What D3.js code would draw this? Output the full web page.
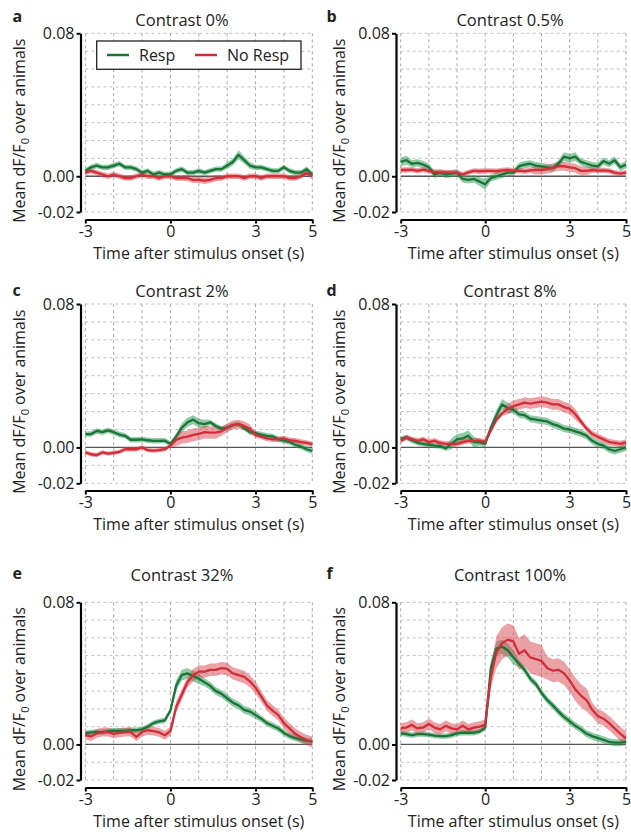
<!DOCTYPE html>
<html><head><meta charset="utf-8">
<script src="https://cdn.jsdelivr.net/npm/d3@7"></script>
<style>
body{margin:0;background:#fff;}
text{font-family:"Open Sans",sans-serif;fill:#222;}
</style></head>
<body>
<svg id="chart" width="631" height="834"></svg>
<script>
// ---- data ----
const times = [-3,-2.8,-2.6,-2.4,-2.2,-2,-1.8,-1.6,-1.4,-1.2,-1,-0.8,-0.6,-0.4,-0.2,0,0.2,0.4,0.6,0.8,1,1.2,1.4,1.6,1.8,2,2.2,2.4,2.6,2.8,3,3.2,3.4,3.6,3.8,4,4.2,4.4,4.6,4.8,5];
const seriesNames = ["Resp", "No Resp"];
const titles = ["Contrast 0%", "Contrast 0.5%", "Contrast 2%", "Contrast 8%", "Contrast 32%", "Contrast 100%"];
const letters = ["a","b","c","d","e","f"];
const yTicks = [-0.02, 0, 0.08];
const xTicks = [-3, 0, 3, 5];

const respA = [0.003,0.005,0.006,0.005,0.005,0.006,0.007,0.005,0.005,0.004,0.002,0.003,0.001,0.002,0.001,0.001,0.003,0.004,0.002,0.002,0.003,0.002,0.003,0.004,0.004,0.006,0.008,0.012,0.009,0.006,0.005,0.005,0.004,0.003,0.003,0.005,0.003,0.002,0.002,0.004,0.001];
const respSemA = [0.0015,0.0015,0.0015,0.0015,0.0015,0.0015,0.0015,0.0015,0.0015,0.0015,0.0015,0.0015,0.0015,0.0015,0.0015,0.0015,0.0015,0.0015,0.0015,0.0015,0.0015,0.0015,0.0015,0.0015,0.0015,0.0018,0.002,0.0025,0.002,0.0018,0.0015,0.0015,0.0015,0.0015,0.0015,0.0015,0.0015,0.0015,0.0015,0.0015,0.0015];
const noRespA = [0.002,0.003,0.002,0.001,0,0.001,0,-0.001,-0.001,0,0.001,0,0,-0.001,0,0,-0.001,-0.001,-0.001,-0.002,-0.002,-0.0025,-0.002,-0.001,-0.001,0,0,0,-0.001,0,0,-0.001,0,0,0,0,-0.001,-0.001,0,0.002,0];
const noRespSemA = [0.0015,0.0015,0.0015,0.0015,0.0015,0.0015,0.0015,0.0015,0.0015,0.0015,0.0015,0.0015,0.0015,0.0015,0.0015,0.0015,0.0015,0.0015,0.0018,0.0018,0.0018,0.0018,0.0018,0.0018,0.0015,0.0015,0.0015,0.0015,0.0015,0.0015,0.0015,0.0015,0.0015,0.0015,0.0015,0.0015,0.0015,0.0015,0.0015,0.0015,0.0015];

const respB = [0.008,0.009,0.007,0.0075,0.0065,0.005,0.001,0.002,0.001,0.0015,0.002,-0.0015,-0.002,-0.0015,-0.003,-0.0045,-0.001,0,0.001,0.002,0.002,0.0055,0.0065,0.007,0.006,0.0055,0.005,0.0045,0.007,0.011,0.01,0.011,0.008,0.007,0.006,0.0055,0.0085,0.007,0.009,0.005,0.0065];
const respSemB = [0.0025,0.0025,0.002,0.002,0.002,0.002,0.002,0.002,0.002,0.002,0.002,0.002,0.002,0.002,0.0025,0.003,0.002,0.002,0.002,0.002,0.002,0.002,0.002,0.002,0.002,0.002,0.002,0.002,0.002,0.0025,0.0025,0.0025,0.002,0.002,0.002,0.002,0.002,0.002,0.002,0.002,0.002];
const noRespB = [0.0035,0.0035,0.0037,0.003,0.0037,0.003,0.0025,0.002,0.0022,0.002,0.002,0.001,0.0022,0.003,0.0028,0.003,0.003,0.0028,0.0033,0.0035,0.003,0.0032,0.0028,0.0033,0.0035,0.0035,0.004,0.0047,0.0056,0.0056,0.005,0.0045,0.003,0.003,0.0035,0.0032,0.0033,0.003,0.002,0.0015,0.002];
const noRespSemB = [0.0015,0.0015,0.0015,0.0015,0.0015,0.0015,0.0015,0.0015,0.0015,0.0015,0.0015,0.0015,0.0015,0.0015,0.0015,0.0015,0.0015,0.0015,0.0015,0.0015,0.0015,0.0015,0.0015,0.0015,0.0025,0.0025,0.0025,0.0025,0.0025,0.0025,0.0025,0.0025,0.0025,0.0025,0.0015,0.0015,0.0015,0.0015,0.0015,0.0015,0.0015];

const respC = [0.0074,0.0075,0.0092,0.0085,0.0095,0.0085,0.0072,0.0065,0.0043,0.0043,0.0045,0.004,0.0037,0.0037,0.0038,0.002,0.006,0.011,0.014,0.0155,0.0135,0.013,0.014,0.012,0.0105,0.011,0.0125,0.013,0.011,0.0085,0.008,0.0072,0.0065,0.0062,0.0046,0.0038,0.003,0.0015,0.0005,-0.001,-0.002];
const respSemC = [0.0015,0.0015,0.0015,0.0015,0.0015,0.0015,0.0015,0.0015,0.0015,0.0015,0.0015,0.0015,0.0015,0.0015,0.0015,0.0015,0.0015,0.0025,0.0025,0.0025,0.0025,0.0025,0.0015,0.0015,0.0015,0.0015,0.0015,0.0015,0.0015,0.0015,0.0015,0.0015,0.0015,0.0015,0.0015,0.0015,0.0015,0.0015,0.0015,0.0015,0.0015];
const noRespC = [-0.0028,-0.0038,-0.0043,-0.0028,-0.0035,-0.003,-0.0025,-0.001,-0.001,-0.001,0,-0.0015,-0.0018,-0.0015,-0.001,0.001,0.0042,0.0055,0.006,0.007,0.0075,0.0085,0.0083,0.0083,0.009,0.011,0.0125,0.013,0.012,0.0105,0.007,0.006,0.005,0.0045,0.0045,0.005,0.004,0.0037,0.003,0.0025,0.0018];
const noRespSemC = [0.0012,0.0012,0.0012,0.0012,0.0012,0.0012,0.0012,0.0012,0.0012,0.0012,0.0012,0.0012,0.0012,0.0012,0.0012,0.0012,0.0035,0.0035,0.0035,0.0035,0.0035,0.0035,0.0035,0.0035,0.0025,0.0025,0.0025,0.0025,0.0025,0.0025,0.0015,0.0015,0.0015,0.0015,0.0015,0.0015,0.0015,0.0015,0.0015,0.0015,0.0015];

const respD = [0.0046,0.0056,0.004,0.0026,0.002,0.0015,0.001,0.0008,-0.0005,0.002,0.0045,0.005,0.0065,0.003,0.0028,0.002,0.011,0.018,0.024,0.022,0.021,0.0185,0.018,0.016,0.0155,0.015,0.0145,0.013,0.012,0.0105,0.01,0.009,0.008,0.0065,0.0037,0.002,0.001,-0.001,-0.002,-0.001,0];
const respSemD = [0.0015,0.0015,0.0015,0.0015,0.0015,0.0015,0.0015,0.0015,0.0015,0.003,0.003,0.003,0.003,0.003,0.002,0.002,0.002,0.003,0.003,0.003,0.002,0.002,0.002,0.002,0.002,0.002,0.002,0.002,0.002,0.002,0.002,0.002,0.002,0.002,0.002,0.002,0.002,0.002,0.002,0.002,0.002];
const noRespD = [0.0037,0.0056,0.0045,0.0037,0.0045,0.003,0.0037,0.0025,0.002,0.002,0.002,0.003,0.0037,0.0037,0.0037,0.003,0.0095,0.0155,0.019,0.0215,0.023,0.024,0.025,0.0245,0.025,0.0255,0.025,0.024,0.024,0.0225,0.0215,0.0185,0.0145,0.0105,0.0075,0.006,0.0045,0.003,0.0025,0.002,0.0028];
const noRespSemD = [0.0015,0.0015,0.0015,0.0015,0.0015,0.0015,0.0015,0.0015,0.0015,0.0015,0.0015,0.0015,0.0015,0.0015,0.0015,0.0015,0.0015,0.0015,0.0015,0.003,0.003,0.003,0.003,0.003,0.003,0.003,0.003,0.003,0.003,0.003,0.003,0.003,0.0018,0.0018,0.0018,0.0018,0.0018,0.0018,0.0018,0.0018,0.0018];

const respE = [0.0062,0.0068,0.0071,0.0068,0.0075,0.0077,0.0077,0.0077,0.008,0.008,0.0085,0.01,0.012,0.013,0.0135,0.019,0.033,0.039,0.04,0.0385,0.037,0.035,0.033,0.03,0.0285,0.026,0.0235,0.022,0.0195,0.0185,0.0165,0.0145,0.012,0.0105,0.009,0.0065,0.0047,0.0036,0.0028,0.002,0.0018];
const respSemE = [0.0015,0.0015,0.0015,0.0015,0.0015,0.0015,0.0015,0.0015,0.0015,0.0015,0.0015,0.0015,0.0015,0.0015,0.0015,0.0015,0.003,0.003,0.003,0.003,0.003,0.0022,0.0022,0.0022,0.0022,0.0022,0.0022,0.0022,0.0022,0.0022,0.0022,0.0018,0.0018,0.0018,0.0018,0.0018,0.0018,0.0018,0.0018,0.0018,0.0018];
const noRespE = [0.0053,0.0045,0.0062,0.007,0.007,0.006,0.0065,0.007,0.007,0.0043,0.007,0.008,0.0075,0.0068,0.0052,0.0075,0.021,0.028,0.035,0.039,0.041,0.041,0.042,0.042,0.043,0.0425,0.04,0.039,0.038,0.0355,0.032,0.027,0.022,0.019,0.0165,0.012,0.009,0.006,0.004,0.0025,0.0015];
const noRespSemE = [0.0025,0.0025,0.0025,0.0025,0.0025,0.0025,0.0025,0.0025,0.0025,0.0025,0.0025,0.0025,0.0025,0.0025,0.0025,0.0025,0.003,0.003,0.003,0.0035,0.0035,0.0035,0.0035,0.0035,0.0035,0.0035,0.0035,0.0035,0.0035,0.0035,0.0035,0.003,0.003,0.003,0.003,0.003,0.003,0.003,0.003,0.003,0.003];

const respF = [0.0062,0.0058,0.0052,0.0058,0.0058,0.0055,0.005,0.0047,0.0047,0.0052,0.0062,0.0066,0.0066,0.0066,0.0072,0.0095,0.043,0.054,0.055,0.053,0.049,0.0455,0.042,0.037,0.034,0.029,0.025,0.022,0.0185,0.0155,0.013,0.0105,0.0085,0.006,0.0047,0.0036,0.0026,0.0015,0.001,0.001,0.0015];
const respSemF = [0.0015,0.0015,0.0015,0.0015,0.0015,0.0015,0.0015,0.0015,0.0015,0.0015,0.0015,0.0015,0.0015,0.0015,0.0015,0.0015,0.004,0.004,0.004,0.004,0.004,0.002,0.002,0.002,0.002,0.002,0.002,0.002,0.002,0.002,0.002,0.002,0.002,0.002,0.002,0.002,0.002,0.002,0.002,0.002,0.002];
const noRespF = [0.009,0.0095,0.011,0.009,0.0095,0.0115,0.0095,0.0085,0.0105,0.009,0.0085,0.0105,0.0085,0.0095,0.01,0.011,0.038,0.052,0.057,0.059,0.058,0.051,0.053,0.049,0.048,0.047,0.043,0.0415,0.042,0.04,0.036,0.031,0.0275,0.025,0.0195,0.016,0.0145,0.012,0.009,0.006,0.0034];
const noRespSemF = [0.003,0.003,0.003,0.003,0.003,0.003,0.003,0.003,0.003,0.003,0.003,0.003,0.003,0.003,0.003,0.003,0.006,0.009,0.009,0.009,0.009,0.009,0.009,0.009,0.009,0.009,0.0065,0.0065,0.0065,0.0065,0.0065,0.0065,0.0065,0.0065,0.004,0.004,0.004,0.004,0.004,0.004,0.004];

const panelData = [
  [respA, respSemA, noRespA, noRespSemA],
  [respB, respSemB, noRespB, noRespSemB],
  [respC, respSemC, noRespC, noRespSemC],
  [respD, respSemD, noRespD, noRespSemD],
  [respE, respSemE, noRespE, noRespSemE],
  [respF, respSemF, noRespF, noRespSemF]
];

// ---- layout / style ----
const colors = {line: ["#1a7638", "#d12e39"], band: ["rgba(40,150,80,0.5)", "rgba(215,70,80,0.5)"]};
const cols = [
  {x0: 85.3, x1: 312.3, yAxisX: 80.5, titleX: 182, letterX: 12.5, ylabelX: 25},
  {x0: 400.7, x1: 626, yAxisX: 396, titleX: 510, letterX: 326.5, ylabelX: 345}
];
const rows = [
  {y0: 33.3, y1: 212, xAxisY: 219.5, titleY: 25.5, letterY: 22},
  {y0: 304, y1: 483.3, xAxisY: 490.5, titleY: 296.5, letterY: 296},
  {y0: 602.3, y1: 780, xAxisY: 787.5, titleY: 580.5, letterY: 579}
];

const svg = d3.select("#chart");

panelData.forEach((pd, i) => {
  const c = cols[i % 2], r = rows[Math.floor(i / 2)];
  const x = d3.scaleLinear().domain([-3, 5]).range([c.x0, c.x1]);
  const y = d3.scaleLinear().domain([-0.02, 0.08]).range([r.y1, r.y0]);
  const g = svg.append("g");

  // grid
  const gx = d3.range(-3, 6, 1);
  const gy = d3.range(-0.02, 0.0801, 0.01);
  g.selectAll(".vg").data(gx).join("line")
    .attr("x1", d => x(d)).attr("x2", d => x(d)).attr("y1", y(0.08)).attr("y2", y(-0.02))
    .attr("stroke", "#a8a8a8").attr("stroke-width", 1).attr("stroke-dasharray", "3,3");
  g.selectAll(".hg").data(gy).join("line")
    .attr("x1", x(-3)).attr("x2", x(5)).attr("y1", d => y(d)).attr("y2", d => y(d))
    .attr("stroke", "#c0c0c0").attr("stroke-width", 1).attr("stroke-dasharray", "3,3");

  // zero line
  g.append("line").attr("x1", x(-3)).attr("x2", x(5)).attr("y1", y(0)).attr("y2", y(0))
    .attr("stroke", "#555").attr("stroke-width", 1.3);

  const series = [[pd[0], pd[1]], [pd[2], pd[3]]];
  const area = d3.area().x(d => x(d.t)).y0(d => y(d.m - d.s)).y1(d => y(d.m + d.s));
  const line = d3.line().x(d => x(d.t)).y(d => y(d.m));
  const pts = series.map(([m, s]) => times.map((t, k) => ({t, m: m[k], s: s[k]})));
  pts.forEach((p, k) => {
    g.append("path").attr("d", area(p)).attr("fill", colors.band[k]).attr("stroke", "none");
  });
  pts.forEach((p, k) => {
    g.append("path").attr("d", line(p)).attr("fill", "none").attr("stroke", colors.line[k])
      .attr("stroke-width", 2.3).attr("stroke-linejoin", "round");
  });

  // axes
  const yAxis = d3.axisLeft(y).tickValues(yTicks).tickSize(4).tickSizeOuter(0).tickPadding(2)
    .tickFormat(d => d.toFixed(2));
  const ya = g.append("g").attr("transform", `translate(${c.yAxisX},0)`).call(yAxis);
  const xAxis = d3.axisBottom(x).tickValues(xTicks).tickSize(4).tickSizeOuter(0).tickPadding(2)
    .tickFormat(d => String(d));
  const xa = g.append("g").attr("transform", `translate(0,${r.xAxisY})`).call(xAxis);
  [ya, xa].forEach(a => {
    a.select(".domain").attr("stroke", "#000").attr("stroke-width", 2.2);
    a.selectAll(".tick line").attr("stroke", "#000").attr("stroke-width", 2);
    a.selectAll(".tick text").style("font-family", "'Open Sans', sans-serif").style("font-size", "16px").attr("fill", "#222");
  });

  // titles & labels
  g.append("text").attr("x", c.titleX).attr("y", r.titleY).attr("text-anchor", "middle")
    .style("font-size", "16.5px").text(titles[i]);
  g.append("text").attr("x", c.letterX).attr("y", r.letterY)
    .style("font-size", "16px").style("font-weight", "bold").text(letters[i]);
  g.append("text").attr("x", (c.x0 + c.x1) / 2).attr("y", r.xAxisY + 39).attr("text-anchor", "middle")
    .style("font-size", "16px").text("Time after stimulus onset (s)");
  const yl = g.append("text")
    .attr("transform", `translate(${c.ylabelX},${(r.y0 + r.y1) / 2 + 8}) rotate(-90)`)
    .attr("text-anchor", "middle").style("font-size", "16px");
  yl.append("tspan").text("Mean dF/F");
  yl.append("tspan").attr("dy", 4).style("font-size", "11px").text("0");
  yl.append("tspan").attr("dy", -4).text(" over animals");

  // legend in first panel
  if (i === 0) {
    const lg = g.append("g");
    lg.append("rect").attr("x", 96.7).attr("y", 41).attr("width", 204.3).attr("height", 28.3)
      .attr("fill", "#fff").attr("stroke", "#222").attr("stroke-width", 1.3);
    const lx = [[107, 129, 139], [195, 217, 227]];
    seriesNames.forEach((n, k) => {
      lg.append("line").attr("x1", lx[k][0]).attr("x2", lx[k][1]).attr("y1", 55).attr("y2", 55)
        .attr("stroke", colors.line[k]).attr("stroke-width", 2.5);
      lg.append("text").attr("x", lx[k][2]).attr("y", 61).style("font-size", "16px").text(n);
    });
  }
});
</script>
</body></html>
